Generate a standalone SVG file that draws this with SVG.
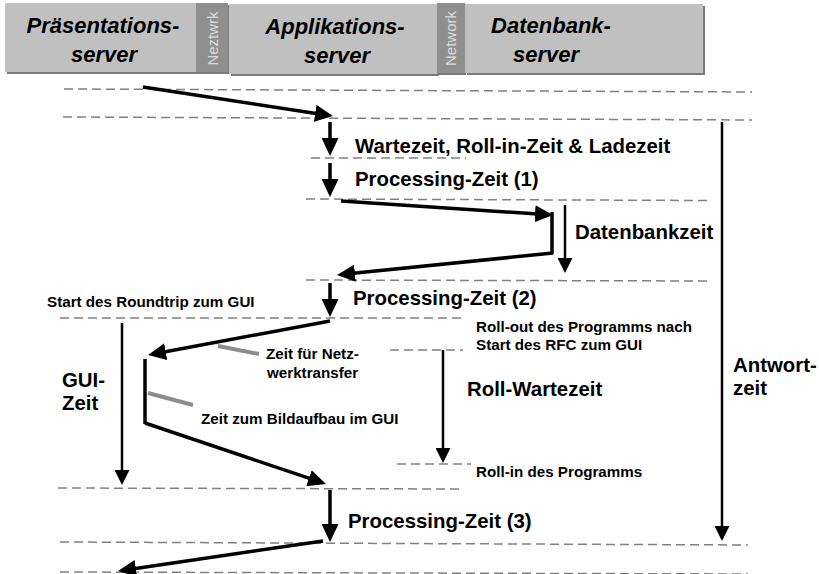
<svg xmlns="http://www.w3.org/2000/svg" width="819" height="574" viewBox="0 0 819 574">
<defs>
<style>
.box{fill:#c0c0c0}
.shadow{fill:#7a7a7a}
.strip{fill:#8f8f8f}
.hdr{font-family:"Liberation Sans",Arial,sans-serif;font-weight:bold;font-style:italic;font-size:22px;fill:#000;text-anchor:middle}
.net{font-family:"Liberation Sans",Arial,sans-serif;font-size:15px;fill:#dcdcdc;text-anchor:middle}
.big{font-family:"Liberation Sans",Arial,sans-serif;font-weight:bold;font-size:20.4px;fill:#000}
.small{font-family:"Liberation Sans",Arial,sans-serif;font-weight:bold;font-size:15.2px;fill:#000}
.dash{stroke:#808080;stroke-width:1.5;stroke-dasharray:9 5;fill:none}
.thick{stroke:#000;stroke-width:3.5;fill:none;marker-end:url(#headL)}
.thin{stroke:#000;stroke-width:2.5;fill:none;marker-end:url(#headS)}
.bar{stroke:#000;stroke-width:3.5;fill:none}
.callout{stroke:#8c8c8c;stroke-width:4;fill:none}
</style>
<marker id="headL" markerUnits="userSpaceOnUse" markerWidth="18" markerHeight="17" refX="14" refY="8.5" orient="auto">
<path d="M0,0 L18,8.5 L0,17 z" fill="#000"/>
</marker>
<marker id="headS" markerUnits="userSpaceOnUse" markerWidth="15" markerHeight="15" refX="12" refY="7.5" orient="auto">
<path d="M0,0 L15,7.5 L0,15 z" fill="#000"/>
</marker>
</defs>
<rect width="819" height="574" fill="#fff"/>

<g id="praesentationsserver">
<rect class="shadow" x="7" y="5" width="191" height="69"/>
<rect class="box" x="5" y="3" width="191" height="69"/>
<text class="hdr" x="103" y="33">Präsentations-</text>
<text class="hdr" x="104" y="62">server</text>
</g>
<g id="neztwrk">
<rect class="shadow" x="198" y="5" width="31" height="69"/>
<rect class="strip" x="196" y="3" width="32" height="69"/>
<text class="net" transform="translate(217.5,38.5) rotate(-90)">Neztwrk</text>
</g>
<g id="applikationsserver">
<rect class="shadow" x="231" y="6" width="208" height="70"/>
<rect class="box" x="229" y="4" width="208" height="70"/>
<text class="hdr" x="335" y="34">Applikations-</text>
<text class="hdr" x="337" y="63">server</text>
</g>
<g id="network">
<rect class="shadow" x="439" y="5" width="27" height="70"/>
<rect class="strip" x="437" y="3" width="28" height="70"/>
<text class="net" transform="translate(456,38.5) rotate(-90)">Network</text>
</g>
<g id="datenbankserver">
<rect class="shadow" x="467" y="6" width="238" height="69"/>
<rect class="box" x="465" y="4" width="238" height="69"/>
<text class="hdr" x="551" y="33">Datenbank-</text>
<text class="hdr" x="546" y="62">server</text>
</g>

<g id="gridlines">
<line class="dash" x1="64" y1="89" x2="752" y2="92"/>
<line class="dash" x1="63" y1="117" x2="752" y2="120"/>
<line class="dash" x1="311" y1="158" x2="466" y2="158"/>
<line class="dash" x1="306" y1="199" x2="710" y2="200.5"/>
<line class="dash" x1="306" y1="280" x2="710" y2="281"/>
<line class="dash" x1="60" y1="318" x2="463" y2="318"/>
<line class="dash" x1="390" y1="350" x2="463" y2="350"/>
<line class="dash" x1="397" y1="464" x2="471" y2="464"/>
<line class="dash" x1="58" y1="488" x2="462" y2="489"/>
<line class="dash" x1="60" y1="542" x2="748" y2="545"/>
<line class="dash" x1="60" y1="572" x2="748" y2="574"/>
</g>

<g id="connectors">
<line class="thick" x1="143" y1="87" x2="329" y2="115.4"/>
<line class="thick" x1="330" y1="122" x2="330" y2="152"/>
<line class="thick" x1="330" y1="163" x2="330" y2="193"/>
<line class="thick" x1="341" y1="201" x2="549" y2="214.7"/>
<line class="bar" x1="552" y1="212" x2="552" y2="254"/>
<line class="thick" x1="553" y1="253" x2="341" y2="274.6"/>
<line class="thin" x1="565" y1="205" x2="565" y2="270"/>
<line class="thick" x1="330" y1="283" x2="330" y2="313"/>
<line class="thick" x1="330" y1="321" x2="152" y2="354.3"/>
<line class="bar" x1="145" y1="359" x2="145" y2="424"/>
<line class="thick" x1="145" y1="423" x2="322.2" y2="482.7"/>
<line class="thin" x1="122" y1="323" x2="122" y2="482"/>
<line class="thick" x1="330" y1="490" x2="330" y2="538"/>
<line class="thick" x1="323" y1="541" x2="122" y2="570.4"/>
<line class="thin" x1="443" y1="350" x2="443" y2="460"/>
<line class="thin" x1="722" y1="122" x2="722" y2="538"/>
<line class="callout" x1="218" y1="346" x2="259" y2="354"/>
<line class="callout" x1="148" y1="393" x2="193" y2="405"/>
</g>

<g id="labels">
<text class="big" x="355" y="153">Wartezeit, Roll-in-Zeit &amp; Ladezeit</text>
<text class="big" x="355" y="186">Processing-Zeit (1)</text>
<text class="big" x="575" y="239">Datenbankzeit</text>
<text class="big" x="353" y="305">Processing-Zeit (2)</text>
<text class="small" x="47" y="307">Start des Roundtrip zum GUI</text>
<text class="small" x="476" y="332">Roll-out des Programms nach</text>
<text class="small" x="476" y="350">Start des RFC zum GUI</text>
<text class="small" x="266" y="359">Zeit für Netz-</text>
<text class="small" x="267" y="378">werktransfer</text>
<text class="big" x="62" y="387">GUI-</text>
<text class="big" x="62" y="410">Zeit</text>
<text class="big" x="467" y="396">Roll-Wartezeit</text>
<text class="big" x="733" y="372">Antwort-</text>
<text class="big" x="733" y="395">zeit</text>
<text class="small" x="201" y="424">Zeit zum Bildaufbau im GUI</text>
<text class="small" x="476" y="477">Roll-in des Programms</text>
<text class="big" x="348" y="528">Processing-Zeit (3)</text>
</g>
</svg>
